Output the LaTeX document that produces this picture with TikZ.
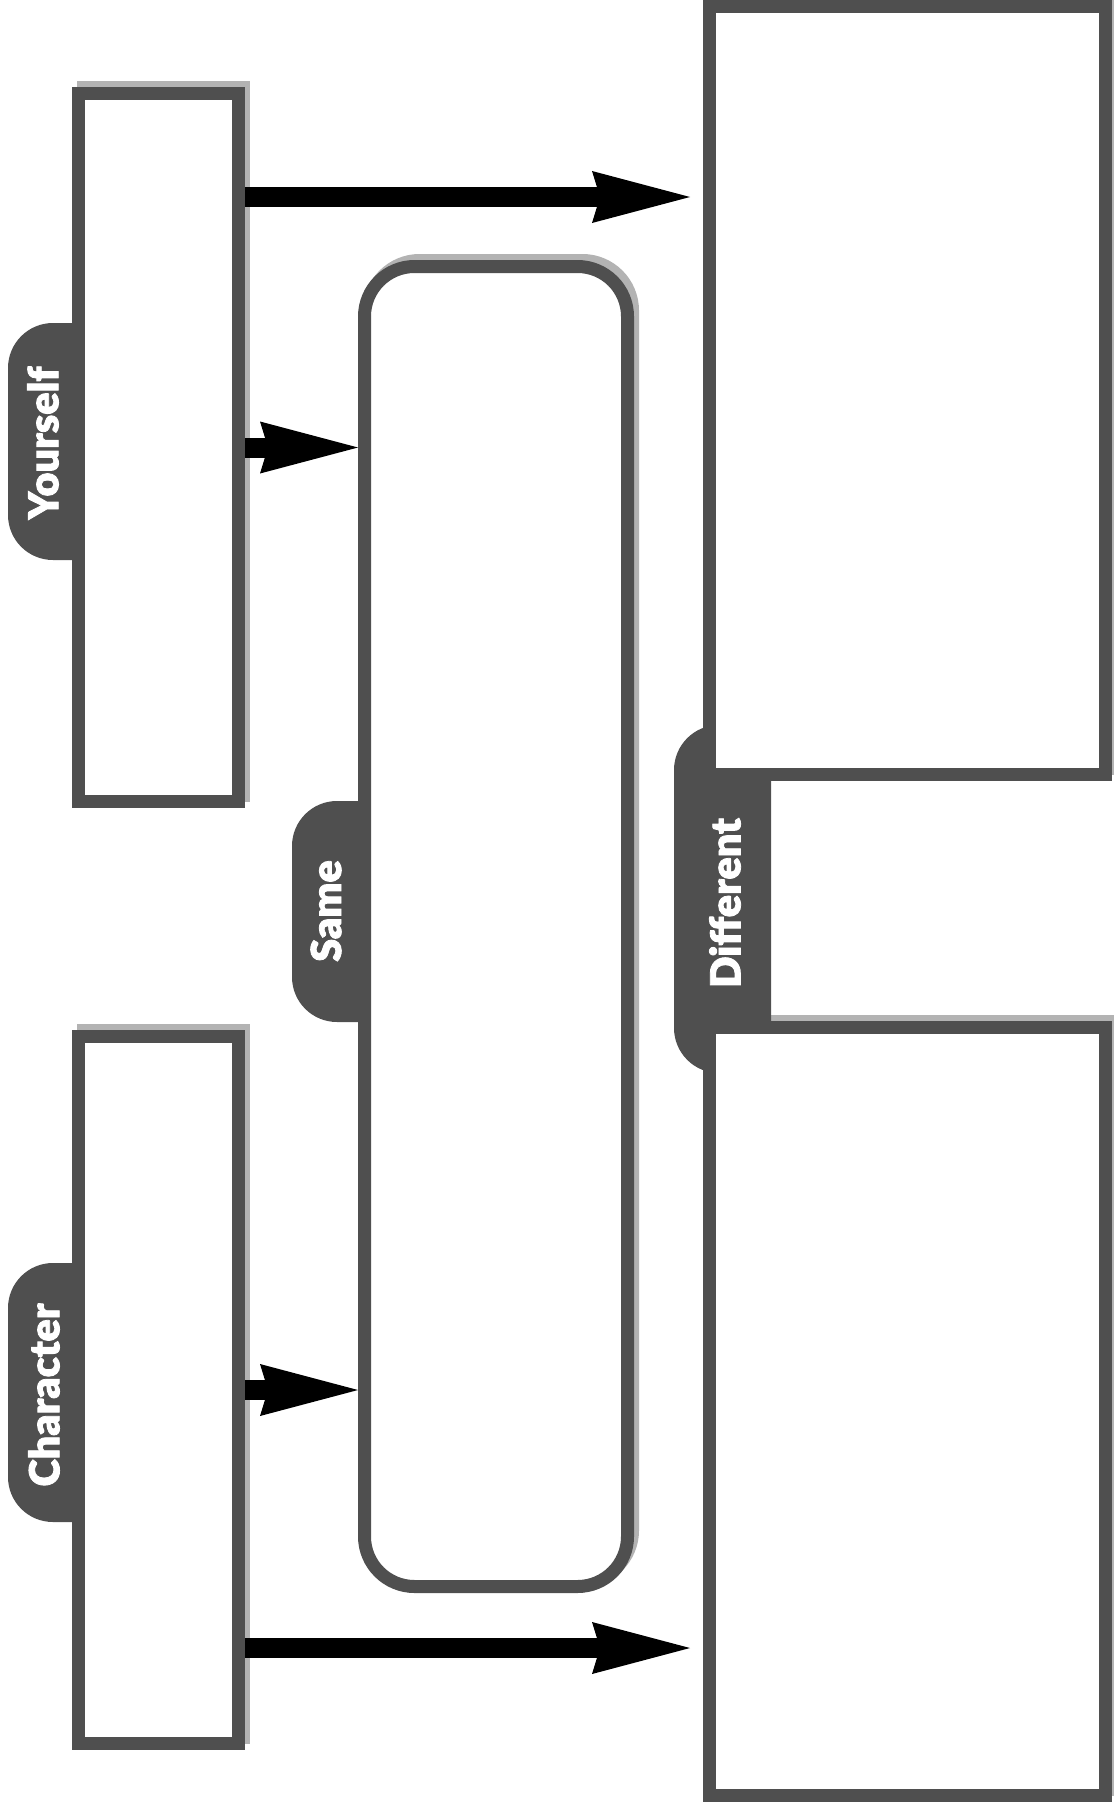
\documentclass[tikz,border=0pt]{standalone}
\usepackage{fontspec}
\newfontfamily\tabfont{Lato Black}[FakeBold=2]
\usetikzlibrary{arrows.meta,calc}
\definecolor{boxgray}{HTML}{4F4F4F}
\definecolor{shadowgray}{HTML}{B3B3B3}
\begin{document}
\begin{tikzpicture}[x=0.75pt,y=-0.75pt,
  panel/.style={draw=boxgray, fill=white, line width=9.75pt, inner sep=0pt},
  panelshadow/.style={draw=shadowgray, fill=shadowgray, line width=9.75pt, inner sep=0pt},
  tab/.style={fill=boxgray, rounded corners=33.75pt, inner sep=0pt},
  tablabel/.style={text=white, font=\tabfont\fontsize{31}{31}\selectfont, rotate=90, inner sep=0pt},
  arr/.style={line width=15pt, -{Stealth[length=73.5pt, width=39pt, inset=6pt, line width=0pt]}}]
\useasboundingbox (0,0) rectangle (1113,1805);
% shadows
\node[panelshadow, minimum width=120pt, minimum height=531pt] (youS) at (163.5,441.5) {};
\node[panelshadow, minimum width=120pt, minimum height=530.25pt] (charS) at (163.5,1384) {};
\node[panelshadow, rounded corners=37.5pt, minimum width=197.25pt, minimum height=990pt] (sameS) at (501,920.5) {};
\node[panelshadow, minimum width=297pt, minimum height=576pt] (dtopS) at (912.5,384.5) {};
\node[panelshadow, minimum width=297pt, minimum height=576pt] (dbotS) at (912.5,1405.5) {};
% tabs
\node[tab, minimum width=106.5pt, minimum height=177.75pt] (youT) at (79,441.5) {};
\node[tab, minimum width=106.5pt, minimum height=194.25pt] (charT) at (79,1392.5) {};
\node[tab, minimum width=103.5pt, minimum height=165.75pt] (sameT) at (361,911.5) {};
\node[tab, minimum width=72.75pt, minimum height=261pt] (difT) at (722.5,899) {};
% panels
\node[panel, minimum width=120pt, minimum height=531pt] (you) at (158.5,447.5) {};
\node[panel, minimum width=120pt, minimum height=530.25pt] (char) at (158.5,1390) {};
\node[panel, rounded corners=37.5pt, minimum width=197.25pt, minimum height=990pt] (same) at (496,926.5) {};
\node[panel, minimum width=297pt, minimum height=576pt] (dtop) at (907.5,390.5) {};
\node[panel, minimum width=297pt, minimum height=576pt] (dbot) at (907.5,1411.5) {};
% labels
\node[tablabel] (youL) at (43,443) {Yourself};
\node[tablabel] (charL) at (44,1395) {Character};
\node[tablabel] (sameL) at (326,911) {Same};
\node[tablabel] (difL) at (725,903) {Different};
% arrows
\draw[arr] (you.east |- 0,197) -- ($(dtop.west |- 0,197)+(-13,0)$);
\draw[arr] (you.east) -- (same.west |- you.east);
\draw[arr] (char.east) -- (same.west |- char.east);
\draw[arr] (char.east |- 0,1648) -- ($(dbot.west |- 0,1648)+(-13,0)$);
\end{tikzpicture}
\end{document}
